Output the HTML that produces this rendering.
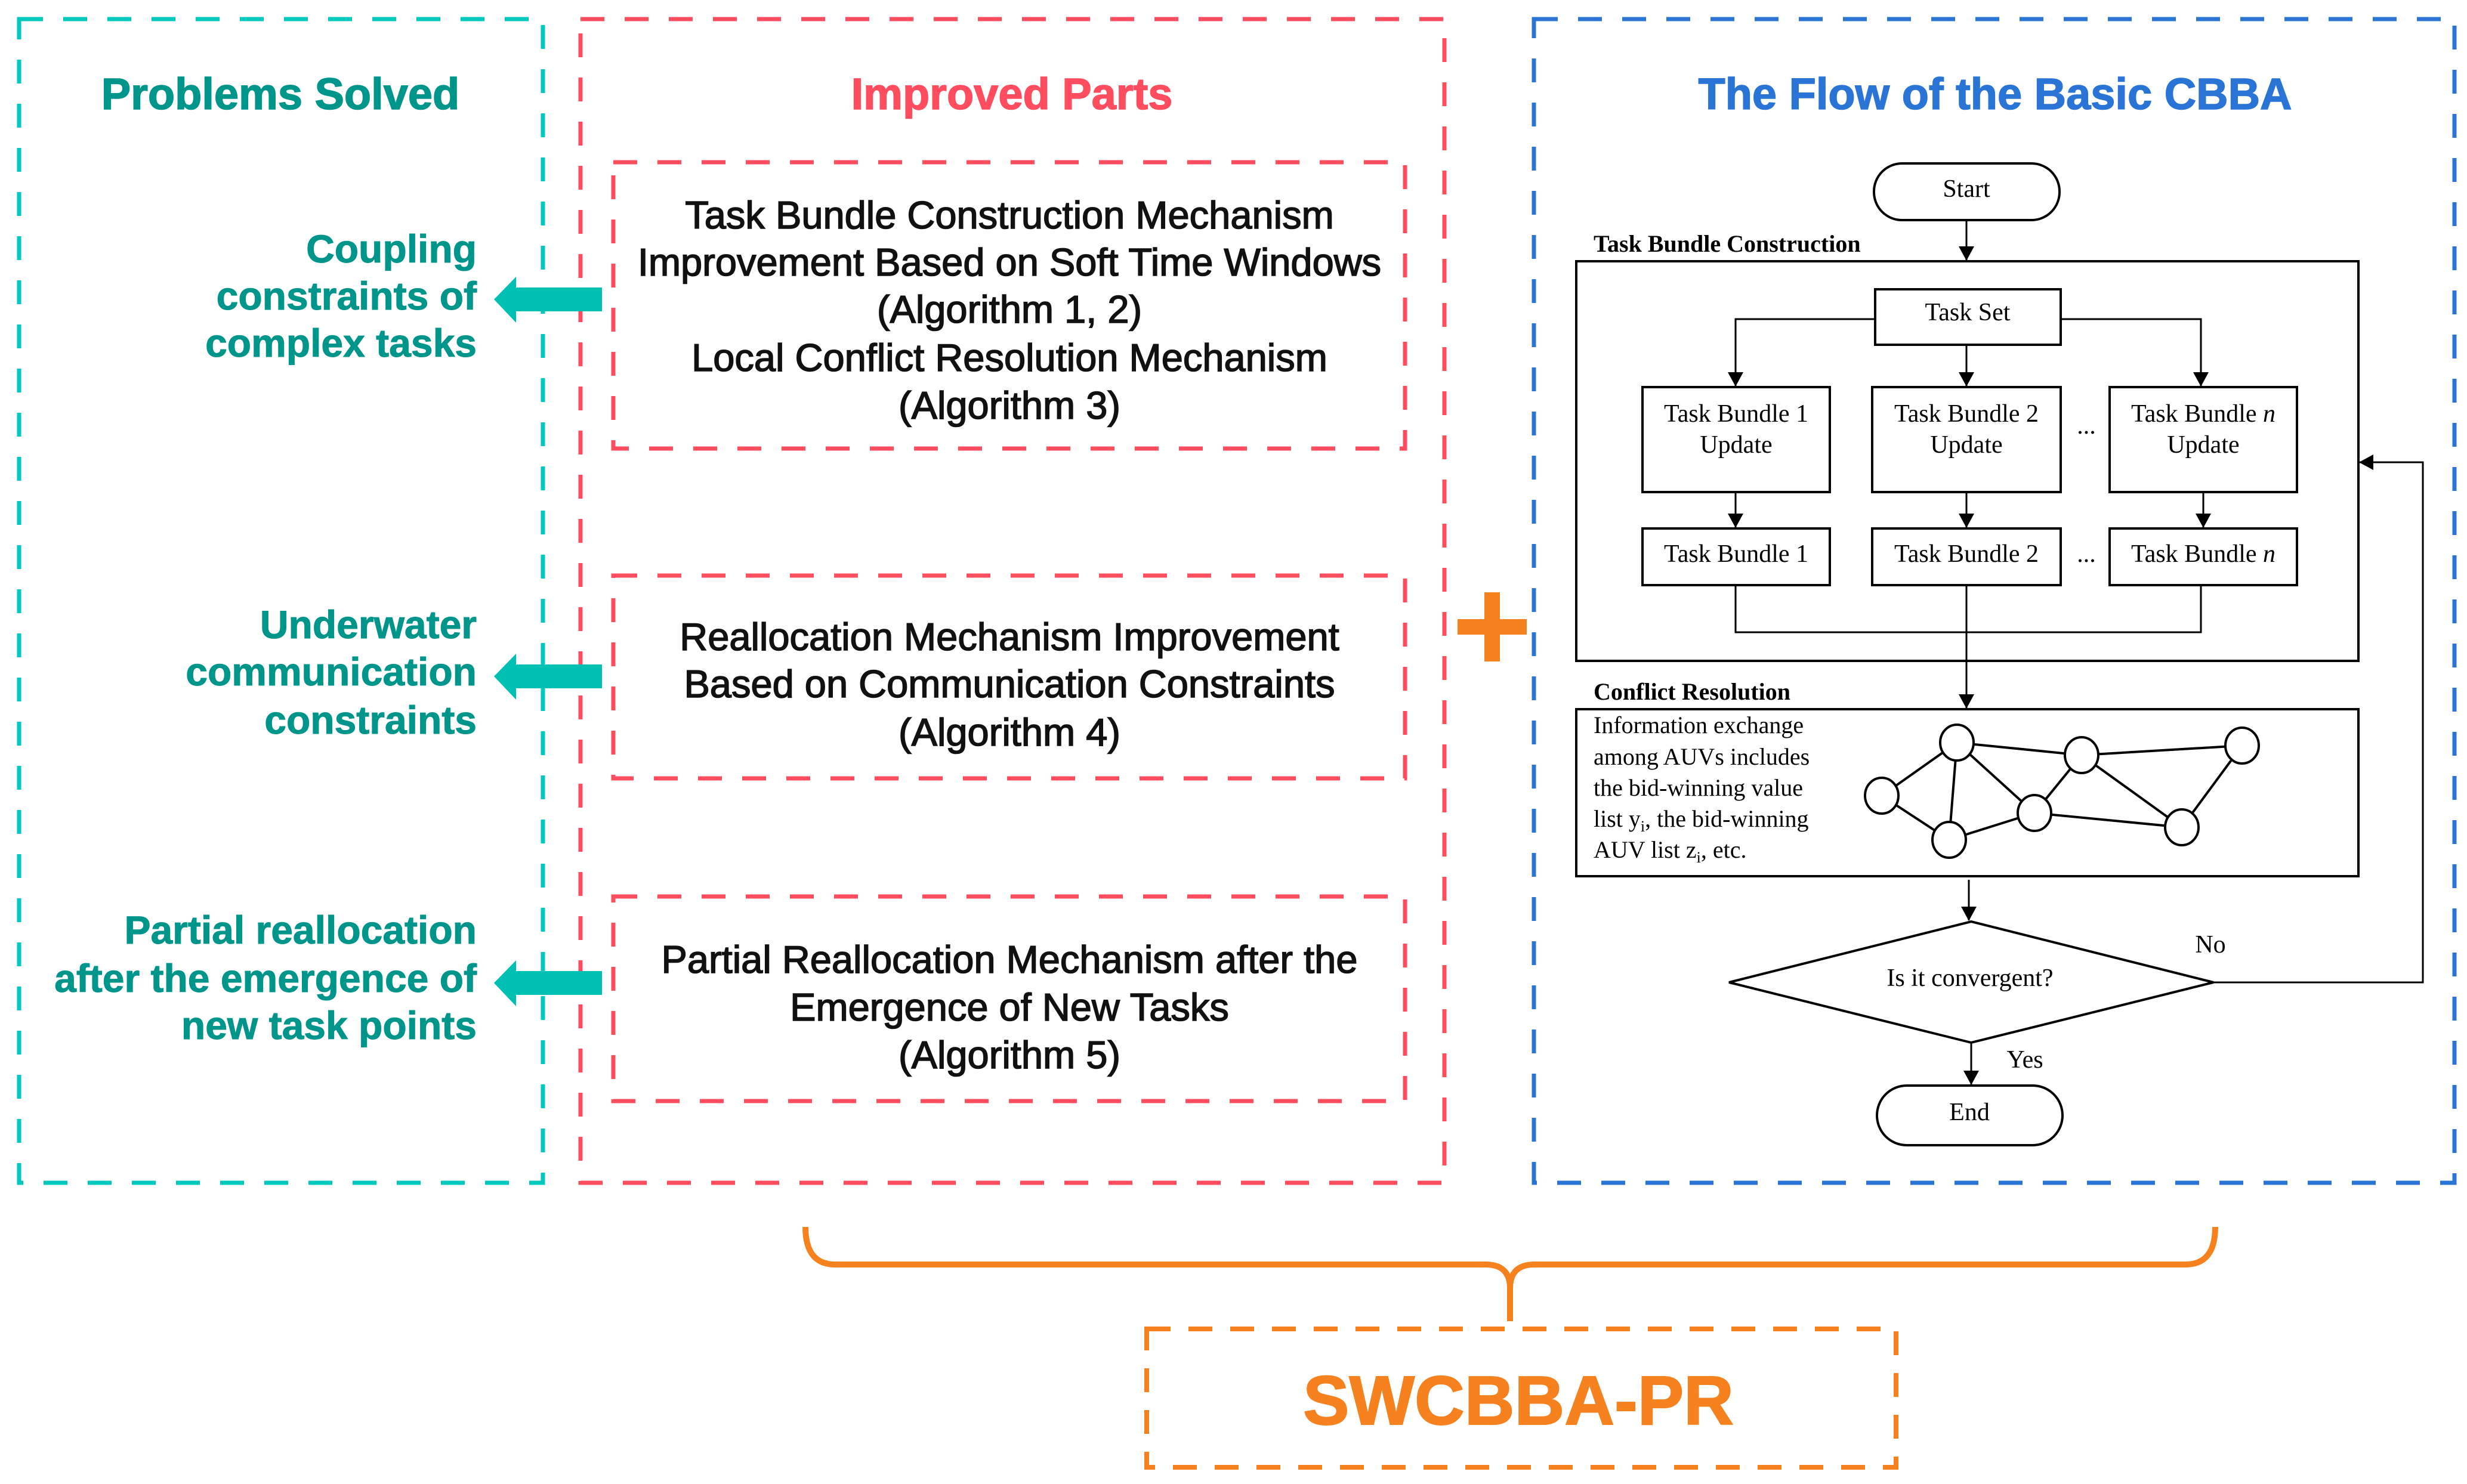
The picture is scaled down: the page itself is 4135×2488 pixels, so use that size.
<!DOCTYPE html>
<html><head><meta charset="utf-8"><style>
html,body{margin:0;padding:0;background:#fff;}
svg{display:block;}
.t{font-family:"Liberation Sans",sans-serif;}
.s{font-family:"Liberation Serif",serif;}
</style></head><body>
<svg width="4135" height="2488" viewBox="0 0 4135 2488" xmlns="http://www.w3.org/2000/svg">
<defs>
<marker id="a2" markerWidth="24" markerHeight="26" refX="23" refY="13" orient="auto" markerUnits="userSpaceOnUse"><path d="M0,0 L24,13 L0,26 z" fill="#000"/></marker></defs>
<rect x="32" y="32" width="878" height="1951" fill="none" stroke="#00c8bc" stroke-width="7" stroke-dasharray="40,34"/>
<rect x="973" y="32" width="1448" height="1951" fill="none" stroke="#ff4d60" stroke-width="7" stroke-dasharray="40,34"/>
<rect x="2571" y="32" width="1543" height="1951" fill="none" stroke="#2a74d6" stroke-width="7" stroke-dasharray="40,34"/>
<g class="t" font-weight="bold" font-size="74" text-anchor="middle" stroke-width="1.5">
<text x="470" y="183" fill="#00958a" stroke="#00958a">Problems Solved</text>
<text x="1696" y="183" fill="#ff4d60" stroke="#ff4d60">Improved Parts</text>
<text x="3344" y="183" fill="#2a74d6" stroke="#2a74d6">The Flow of the Basic CBBA</text>
</g>
<g fill="none" stroke="#ff4d60" stroke-width="7" stroke-dasharray="40,34">
<rect x="1028" y="272" width="1327" height="480"/>
<rect x="1028" y="965" width="1327" height="340"/>
<rect x="1028" y="1503" width="1327" height="343"/>
</g>
<g class="t" font-size="65" text-anchor="middle" fill="#111" stroke="#111" stroke-width="1.6">
<text x="1692" y="383">Task Bundle Construction Mechanism</text>
<text x="1692" y="462">Improvement Based on Soft Time Windows</text>
<text x="1692" y="541">(Algorithm 1, 2)</text>
<text x="1692" y="622">Local Conflict Resolution Mechanism</text>
<text x="1692" y="702">(Algorithm 3)</text>
<text x="1692" y="1090">Reallocation Mechanism Improvement</text>
<text x="1692" y="1169">Based on Communication Constraints</text>
<text x="1692" y="1250">(Algorithm 4)</text>
<text x="1692" y="1631">Partial Reallocation Mechanism after the</text>
<text x="1692" y="1711">Emergence of New Tasks</text>
<text x="1692" y="1791">(Algorithm 5)</text>
</g>
<g class="t" font-weight="bold" font-size="66" text-anchor="end" fill="#00958a" stroke="#00958a" stroke-width="1">
<text x="799" y="440">Coupling</text>
<text x="799" y="519">constraints of</text>
<text x="799" y="598">complex tasks</text>
<text x="799" y="1070">Underwater</text>
<text x="799" y="1149">communication</text>
<text x="799" y="1230">constraints</text>
<text x="799" y="1582">Partial reallocation</text>
<text x="799" y="1663">after the emergence of</text>
<text x="799" y="1742">new task points</text>
</g>
<g fill="#00c0b4">
<path d="M1009,482 L865,482 L865,464 L828,502 L865,541 L865,522 L1009,522 z"/>
<path d="M1009,1114 L865,1114 L865,1096 L828,1134 L865,1173 L865,1154 L1009,1154 z"/>
<path d="M1009,1628 L865,1628 L865,1610 L828,1648 L865,1687 L865,1668 L1009,1668 z"/>
</g>
<g fill="#f5821f"><rect x="2443" y="1038" width="116" height="26"/><rect x="2488" y="993" width="26" height="116"/></g>
<path d="M1350,2057 Q1350,2120 1400,2120 L2490,2120 Q2531,2120 2531,2160 L2531,2215 M2531,2160 Q2531,2120 2572,2120 L3663,2120 Q3713,2120 3713,2057" fill="none" stroke="#f5821f" stroke-width="10"/>
<rect x="1922" y="2228" width="1256" height="232" fill="none" stroke="#f5821f" stroke-width="8" stroke-dasharray="40,30"/>
<text class="t" x="2545" y="2388" font-size="116" font-weight="bold" fill="#f5821f" stroke="#f5821f" stroke-width="2" text-anchor="middle">SWCBBA-PR</text>
<g stroke="#000" stroke-width="4" fill="none">
<rect x="3141" y="274" width="311" height="95" rx="47"/>
<rect x="2642" y="438" width="1311" height="670"/>
<rect x="3143" y="485" width="311" height="93"/>
<rect x="2753" y="649" width="314" height="176"/>
<rect x="3138" y="649" width="316" height="176"/>
<rect x="3536" y="649" width="314" height="176"/>
<rect x="2753" y="886" width="314" height="95"/>
<rect x="3138" y="886" width="316" height="95"/>
<rect x="3536" y="886" width="314" height="95"/>
<rect x="2642" y="1189" width="1311" height="280"/>
<path d="M2898,1647 L3304,1545 L3710,1647 L3304,1748 z"/>
<rect x="3146" y="1820" width="311" height="100" rx="50"/>
</g>
<g stroke="#000" stroke-width="3" fill="none">
<path d="M3296,369 L3296,436" marker-end="url(#a2)"/>
<path d="M3143,535 L2909,535 L2909,647" marker-end="url(#a2)"/>
<path d="M3454,535 L3689,535 L3689,647" marker-end="url(#a2)"/>
<path d="M3296,578 L3296,647" marker-end="url(#a2)"/>
<path d="M2909,825 L2909,884" marker-end="url(#a2)"/>
<path d="M3296,825 L3296,884" marker-end="url(#a2)"/>
<path d="M3693,825 L3693,884" marker-end="url(#a2)"/>
<path d="M2909,981 L2909,1060 L3689,1060 L3689,981"/>
<path d="M3296,981 L3296,1187" marker-end="url(#a2)"/>
<path d="M3300,1475 L3300,1543" marker-end="url(#a2)"/>
<path d="M3710,1647 L4061,1647 L4061,775 L3955,775" marker-end="url(#a2)"/>
<path d="M3304,1748 L3304,1818" marker-end="url(#a2)"/>
</g>
<g class="s" font-size="42" fill="#000" text-anchor="middle">
<text x="3296" y="330">Start</text>
<text x="3298" y="537">Task Set</text>
<text x="2910" y="707">Task Bundle 1</text><text x="2910" y="759">Update</text>
<text x="3296" y="707">Task Bundle 2</text><text x="3296" y="759">Update</text>
<text x="3693" y="707">Task Bundle <tspan font-style="italic">n</tspan></text><text x="3693" y="759">Update</text>
<text x="2910" y="942">Task Bundle 1</text>
<text x="3296" y="942">Task Bundle 2</text>
<text x="3693" y="942">Task Bundle <tspan font-style="italic">n</tspan></text>
<text x="3497" y="727">...</text><text x="3497" y="942">...</text>
<text x="3302" y="1653">Is it convergent?</text>
<text x="3301" y="1878">End</text>
<text x="3705" y="1597">No</text>
<text x="3394" y="1790">Yes</text>
</g>
<g class="s" font-size="40" font-weight="bold" fill="#000">
<text x="2671" y="422">Task Bundle Construction</text>
<text x="2671" y="1173">Conflict Resolution</text>
</g>
<g class="s" font-size="40" fill="#000">
<text x="2671" y="1229">Information exchange</text>
<text x="2671" y="1282">among AUVs includes</text>
<text x="2671" y="1334">the bid-winning value</text>
<text x="2671" y="1386">list y<tspan font-size="26" dy="8">i</tspan><tspan dy="-8">, the bid-winning</tspan></text>
<text x="2671" y="1438">AUV list  z<tspan font-size="26" dy="8">i</tspan><tspan dy="-8">, etc.</tspan></text>
</g>
<g stroke="#000" stroke-width="4">
<line x1="3280" y1="1245" x2="3489" y2="1266"/><line x1="3489" y1="1266" x2="3758" y2="1250"/>
<line x1="3280" y1="1245" x2="3154" y2="1334"/><line x1="3280" y1="1245" x2="3267" y2="1408"/>
<line x1="3280" y1="1245" x2="3410" y2="1363"/><line x1="3154" y1="1334" x2="3267" y2="1408"/>
<line x1="3267" y1="1408" x2="3410" y2="1363"/><line x1="3410" y1="1363" x2="3489" y2="1266"/>
<line x1="3489" y1="1266" x2="3657" y2="1387"/><line x1="3657" y1="1387" x2="3758" y2="1250"/>
<line x1="3410" y1="1363" x2="3657" y2="1387"/>
</g>
<g stroke="#000" stroke-width="4" fill="#fff">
<ellipse cx="3280" cy="1245" rx="28" ry="30"/><ellipse cx="3489" cy="1266" rx="28" ry="30"/>
<ellipse cx="3758" cy="1250" rx="28" ry="30"/><ellipse cx="3154" cy="1334" rx="28" ry="30"/>
<ellipse cx="3410" cy="1363" rx="28" ry="30"/><ellipse cx="3657" cy="1387" rx="28" ry="30"/>
<ellipse cx="3267" cy="1408" rx="28" ry="30"/>
</g>
</svg>
</body></html>
